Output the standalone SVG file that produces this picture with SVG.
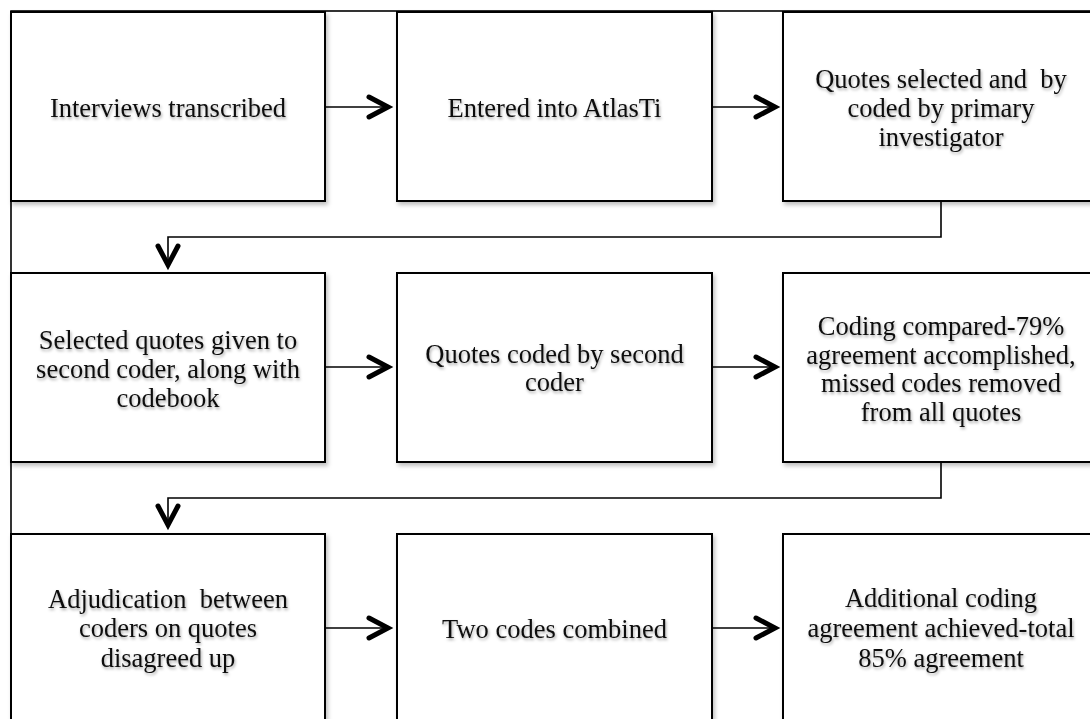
<svg xmlns="http://www.w3.org/2000/svg" width="1090" height="719" viewBox="0 0 1090 719">
<style>
.box{fill:#fff;stroke:#000;stroke-width:2;filter:url(#bs)}
.lbl{font-family:"Liberation Serif","Times New Roman",serif;font-size:26.5px;fill:#111;text-anchor:middle;filter:url(#ts);white-space:pre}
.con{fill:none;stroke:#000;stroke-width:1.6}
.head{fill:none;stroke:#000;stroke-width:5;stroke-linecap:round;stroke-linejoin:miter}
</style>
<defs>
<filter id="bs" x="-10%" y="-10%" width="130%" height="130%">
<feDropShadow dx="2" dy="3" stdDeviation="2" flood-color="#000" flood-opacity="0.25"/>
</filter>
<filter id="ts" x="-10%" y="-20%" width="130%" height="160%">
<feDropShadow dx="1" dy="2" stdDeviation="1.6" flood-color="#000" flood-opacity="0.35"/>
</filter>
</defs>
<rect width="1090" height="719" fill="#fff"/>
<rect x="11" y="11" width="1100" height="720" fill="none" stroke="#000" stroke-width="1.6"/>
<g id="connectors">
<path class="con" d="M325,107 H385"/>
<path class="head" d="M369,97 L388,107 L369,117"/>
<path class="con" d="M712,107 H772"/>
<path class="head" d="M756,97 L775,107 L756,117"/>
<path class="con" d="M941,201 V237 H168 V262"/>
<path class="head" d="M158,246 L168,265 L178,246"/>
<path class="con" d="M325,367 H385"/>
<path class="head" d="M369,357 L388,367 L369,377"/>
<path class="con" d="M712,367 H772"/>
<path class="head" d="M756,357 L775,367 L756,377"/>
<path class="con" d="M941,462 V498 H168 V521"/>
<path class="head" d="M158,506 L168,525 L178,506"/>
<path class="con" d="M325,628 H385"/>
<path class="head" d="M369,618 L388,628 L369,638"/>
<path class="con" d="M712,628 H772"/>
<path class="head" d="M756,618 L775,628 L756,638"/>
</g>
<g id="n1"><rect class="box" x="11" y="12" width="314" height="189"/>
<text class="lbl" x="168" y="117">Interviews transcribed</text></g>
<g id="n2"><rect class="box" x="397" y="12" width="315" height="189"/>
<text class="lbl" x="554.5" y="117">Entered into AtlasTi</text></g>
<g id="n3"><rect class="box" x="783" y="12" width="316" height="189"/>
<text class="lbl" x="941" y="88">Quotes selected and  by</text>
<text class="lbl" x="941" y="117">coded by primary</text>
<text class="lbl" x="941" y="146">investigator</text></g>
<g id="n4"><rect class="box" x="11" y="273" width="314" height="189"/>
<text class="lbl" x="168" y="349">Selected quotes given to</text>
<text class="lbl" x="168" y="378">second coder, along with</text>
<text class="lbl" x="168" y="407">codebook</text></g>
<g id="n5"><rect class="box" x="397" y="273" width="315" height="189"/>
<text class="lbl" x="554.5" y="362.5">Quotes coded by second</text>
<text class="lbl" x="554.5" y="391">coder</text></g>
<g id="n6"><rect class="box" x="783" y="273" width="316" height="189"/>
<text class="lbl" x="941" y="335">Coding compared-79%</text>
<text class="lbl" x="941" y="363.5">agreement accomplished,</text>
<text class="lbl" x="941" y="392">missed codes removed</text>
<text class="lbl" x="941" y="420.5">from all quotes</text></g>
<g id="n7"><rect class="box" x="11" y="534" width="314" height="189"/>
<text class="lbl" x="168" y="607.5">Adjudication  between</text>
<text class="lbl" x="168" y="637">coders on quotes</text>
<text class="lbl" x="168" y="666.5">disagreed up</text></g>
<g id="n8"><rect class="box" x="397" y="534" width="315" height="189"/>
<text class="lbl" x="554.5" y="638">Two codes combined</text></g>
<g id="n9"><rect class="box" x="783" y="534" width="316" height="189"/>
<text class="lbl" x="941" y="607">Additional coding</text>
<text class="lbl" x="941" y="637">agreement achieved-total</text>
<text class="lbl" x="941" y="667">85% agreement</text></g>
</svg>
